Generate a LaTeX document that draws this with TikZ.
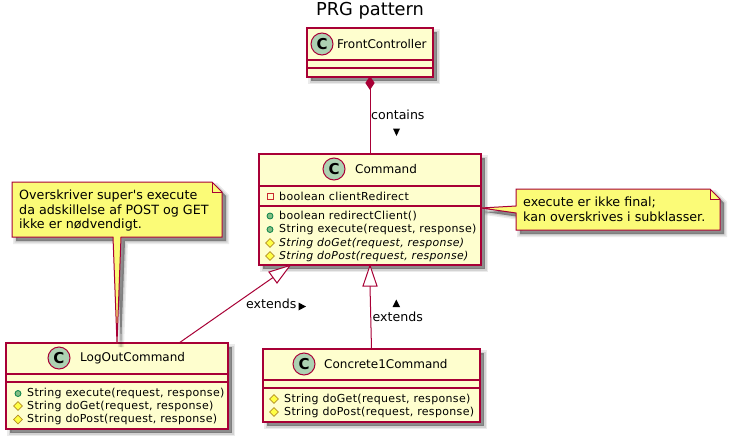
\documentclass[tikz,border=0pt]{standalone}
\usepackage{fontspec}
\setmainfont{DejaVu Sans}
\newfontfamily\memberfont[LetterSpace=3]{DejaVu Sans}
\newfontfamily\notefont{DejaVu Sans}
\usetikzlibrary{shadows,calc,shapes.geometric}
\definecolor{umlline}{HTML}{A80036}
\definecolor{umlfill}{HTML}{FEFECE}
\definecolor{notefill}{HTML}{FBFB77}
\definecolor{circfill}{HTML}{ADD1B2}
\definecolor{pubdraw}{HTML}{038048}
\definecolor{pubfill}{HTML}{84BE84}
\definecolor{pridraw}{HTML}{C82930}
\definecolor{prodraw}{HTML}{B38D22}
\definecolor{profill}{HTML}{FFFF44}
\tikzset{
  softshadow/.style={
    general shadow={shadow xshift=4pt,shadow yshift=-4pt,fill=black,fill opacity=.16,draw=black,draw opacity=.08,line width=6pt},
    general shadow={shadow xshift=4pt,shadow yshift=-4pt,fill=black,fill opacity=.16,draw=black,draw opacity=.1,line width=3pt},
    general shadow={shadow xshift=4pt,shadow yshift=-4pt,fill=black,fill opacity=.14,draw=none}},
  classbox/.style={draw=umlline,fill=umlfill,line width=1.3pt,softshadow,inner sep=0pt,outer sep=0pt},
  notebox/.style={draw=umlline,fill=notefill,line width=1pt,softshadow,line join=miter},
  sepline/.style={draw=umlline,line width=1.1pt},
  link/.style={draw=umlline,line width=1pt},
  circ/.style={circle,draw=umlline,fill=circfill,line width=1pt,minimum size=22pt,inner sep=0pt,font=\fontsize{15}{15}\selectfont\bfseries},
  cname/.style={anchor=west,inner sep=0pt,font=\fontsize{12}{14}\selectfont},
  member/.style={anchor=west,inner sep=0pt,font=\memberfont\fontsize{11}{12}\selectfont},
  imember/.style={member,font=\memberfont\fontsize{10.9}{12}\selectfont\itshape},
  notetext/.style={anchor=west,inner sep=0pt,font=\notefont\fontsize{12.7}{14}\selectfont},
  lbl/.style={anchor=west,inner sep=0pt,font=\fontsize{12.6}{14}\selectfont},
  titletext/.style={inner sep=0pt,font=\fontsize{17.8}{20}\selectfont},
  pubicon/.style={circle,draw=pubdraw,fill=pubfill,line width=.8pt,minimum size=6pt,inner sep=0pt},
  privicon/.style={rectangle,draw=pridraw,line width=.9pt,minimum size=6pt,inner sep=0pt},
  proticon/.style={diamond,draw=prodraw,fill=profill,line width=.8pt,minimum size=9pt,inner sep=0pt},
  dirmark/.style={fill=black,draw=none},
  hollow/.style={draw=umlline,fill=white,line width=1pt,line join=miter},
  solidtip/.style={draw=umlline,fill=umlline,line width=1pt,line join=miter},
}
\begin{document}
\begin{tikzpicture}[x=1pt,y=-1pt]
\useasboundingbox (0,0) rectangle (730,439);
\fill[white] (0,0) rectangle (730,439);

\node[titletext] (title) at (370,11) {PRG pattern};

% class boxes
\node[classbox,minimum width=126pt,minimum height=49pt] (front) at (370,52.5) {};
\node[classbox,minimum width=222pt,minimum height=111pt] (command) at (370,209.5) {};
\node[classbox,minimum width=222pt,minimum height=86pt] (logout) at (117,386) {};
\node[classbox,minimum width=217pt,minimum height=73pt] (concrete) at (371.5,385.5) {};

% separators
\draw[sepline] (front.west |- 0,60) -- (front.east |- 0,60);
\draw[sepline] (front.west |- 0,68) -- (front.east |- 0,68);
\draw[sepline] (command.west |- 0,186) -- (command.east |- 0,186);
\draw[sepline] (command.west |- 0,206) -- (command.east |- 0,206);
\draw[sepline] (logout.west |- 0,374) -- (logout.east |- 0,374);
\draw[sepline] (logout.west |- 0,382) -- (logout.east |- 0,382);
\draw[sepline] (concrete.west |- 0,380) -- (concrete.east |- 0,380);
\draw[sepline] (concrete.west |- 0,388) -- (concrete.east |- 0,388);

% class headers
\node[circ] (c1) at (322,44) {C};
\node[cname] (t1) at (337,44) {FrontController};
\node[circ] (c2) at (334,169) {C};
\node[cname] (t2) at (355,169) {Command};
\node[circ] (c3) at (59,358) {C};
\node[cname] (t3) at (80,358) {LogOutCommand};
\node[circ] (c4) at (304,364) {C};
\node[cname] (t4) at (324,364) {Concrete1Command};

% Command members
\node[privicon] (i1) at (270,196) {};
\node[member] (m1) at (279,196) {boolean clientRedirect};
\node[pubicon] (i2) at (270,216) {};
\node[member] (m2) at (279,216) {boolean redirectClient()};
\node[pubicon] (i3) at (270,229.5) {};
\node[member] (m3) at (279,229.5) {String execute(request, response)};
\node[proticon] (i4) at (270,243) {};
\node[imember] (m4) at (279,243) {String doGet(request, response)};
\node[proticon] (i5) at (270,256) {};
\node[imember] (m5) at (279,256) {String doPost(request, response)};

% LogOutCommand members
\node[pubicon] (i6) at (18,393.5) {};
\node[member] (m6) at (27,393.5) {String execute(request, response)};
\node[proticon] (i7) at (18,406) {};
\node[member] (m7) at (27,406) {String doGet(request, response)};
\node[proticon] (i8) at (18,419.5) {};
\node[member] (m8) at (27,419.5) {String doPost(request, response)};

% Concrete1Command members
\node[proticon] (i9) at (274,399) {};
\node[member] (m9) at (284,399) {String doGet(request, response)};
\node[proticon] (i10) at (274,412) {};
\node[member] (m10) at (284,412) {String doPost(request, response)};

% notes
\coordinate (tailA) at (logout.north);
\path[notebox] (12,182) -- (212,182) -- (222,192) -- (222,237) -- (121,237) -- (tailA) -- (113,237) -- (12,237) -- cycle;
\draw[umlline,line width=1pt] (212,182) -- (212,192) -- (222,192);
\node[notetext] (n1) at (19,196) {Overskriver super's execute};
\node[notetext] (n2) at (19,210.5) {da adskillelse af POST og GET};
\node[notetext] (n3) at (19,225) {ikke er nødvendigt.};

\coordinate (tailB) at (command.east |- 0,208);
\path[notebox] (516,189) -- (710,189) -- (720,199) -- (720,230) -- (516,230) -- (516,213) -- (tailB) -- (516,206) -- cycle;
\draw[umlline,line width=1pt] (710,189) -- (710,199) -- (720,199);
\node[notetext] (n4) at (523,202.5) {execute er ikke final;};
\node[notetext] (n5) at (523,217) {kan overskrives i subklasser.};

% connectors
\draw[link] (front.south) -- (command.north);
\path[solidtip] (front.south) -- ++(4,6) -- ++(-4,6) -- ++(-4,-6) -- cycle;
\node[lbl] (l1) at (371,115) {contains};
\path[dirmark] (393,128.5) -- (400,128.5) -- (396.5,136) -- cycle;

\coordinate (tipL) at (290,265.5);
\draw[link] ([xshift=62pt]logout.north) -- (273,277.5);
\path[hollow] (tipL) -- (269,272) -- (277,283) -- cycle;
\node[lbl] (l2) at (246,304) {extends};
\path[dirmark] (298.5,302.5) -- (306,306.5) -- (298.5,310.5) -- cycle;

\coordinate (tipC) at (370,265.5);
\draw[link] (concrete.north) -- (370,286);
\path[hollow] (tipC) -- (377,286) -- (363,286) -- cycle;
\node[lbl] (l3) at (372.5,317) {extends};
\path[dirmark] (392.5,307) -- (400,307) -- (396.25,299.5) -- cycle;
\end{tikzpicture}
\end{document}
